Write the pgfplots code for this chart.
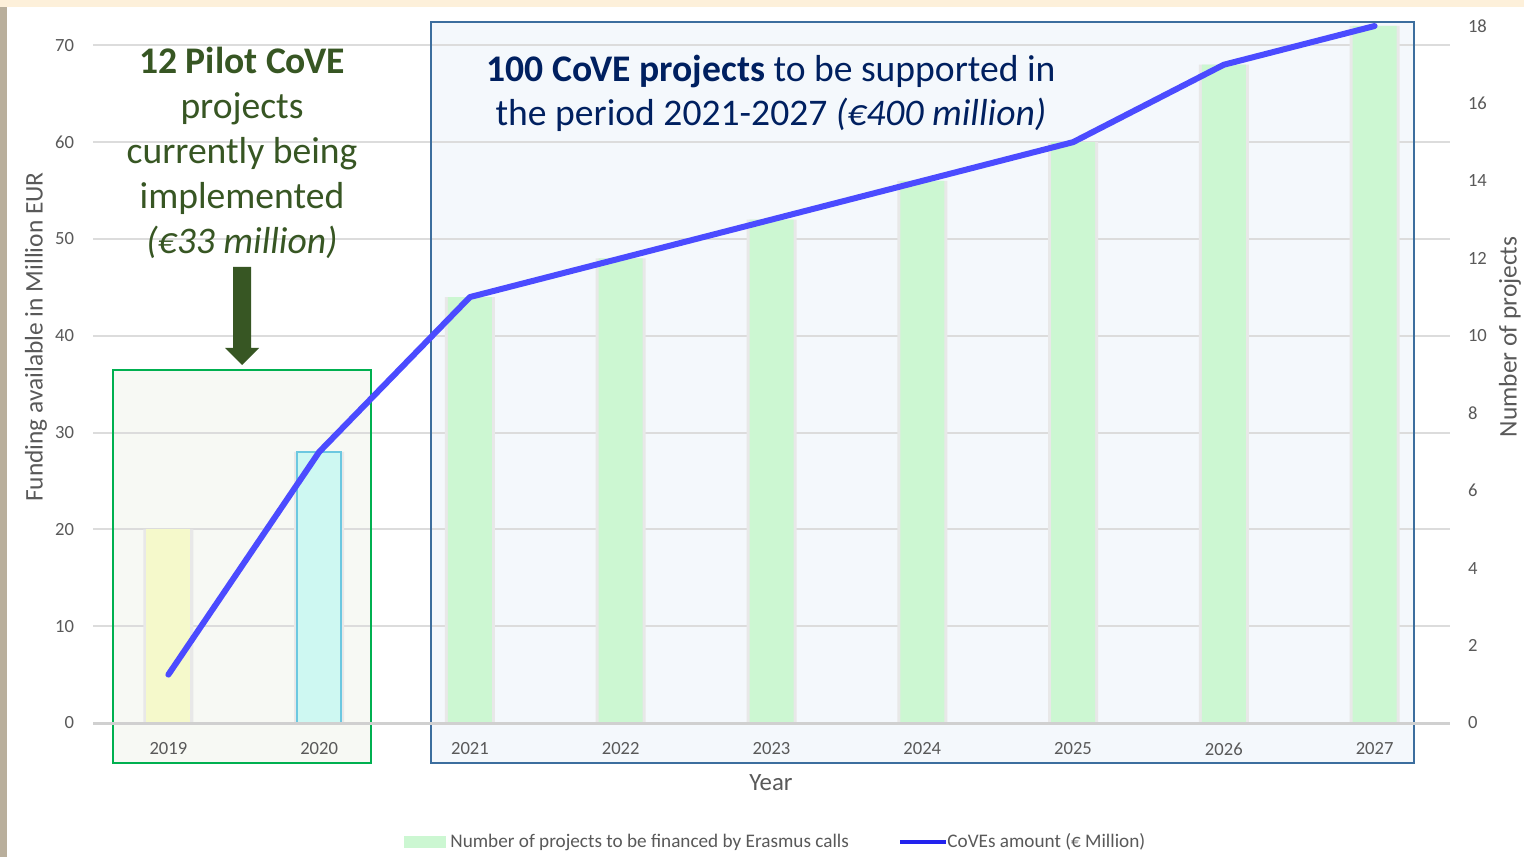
\documentclass[border=0pt]{standalone}
\usepackage{pgfplots}
\pgfplotsset{compat=1.18}
\usepackage{fontspec}
\setmainfont{Carlito}
\definecolor{tickgray}{HTML}{595959}
\definecolor{gridgray}{HTML}{DCDCDC}
\definecolor{basegray}{HTML}{D0D0D0}
\definecolor{barGreen}{HTML}{CCF7D2}
\definecolor{barYellow}{HTML}{F5F9CB}
\definecolor{barCyan}{HTML}{CEF8F2}
\definecolor{cyanEdge}{HTML}{6CC8E0}
\definecolor{lineBlue}{HTML}{4B4BFF}
\definecolor{legBlue}{HTML}{2323EE}
\definecolor{boxGreen}{HTML}{00B050}
\definecolor{boxBlue}{HTML}{3C6E9E}
\definecolor{fillGreenBox}{HTML}{F7F9F4}
\definecolor{fillBlueBox}{HTML}{F4F8FC}
\definecolor{darkGreen}{HTML}{375623}
\definecolor{navy}{HTML}{002060}
\definecolor{cream}{HTML}{FDF0DA}
\definecolor{beige}{HTML}{B9AF9C}

\pgfplotsset{
  common/.style={
    at={(46.5pt,67pt)}, anchor=south west, scale only axis,
    width=678.5pt, height=348.5pt,
    xmin=-0.5, xmax=8.5,
    axis line style={draw=none},
    major tick length=0pt,
    /pgf/number format/assume math mode=true,
    tick label style={text=tickgray, font=\fontsize{9.3}{11}\selectfont},
  }
}

\begin{document}
\begin{tikzpicture}
% background and box fills
\begin{scope}[shift={(0,428.5pt)}, x=0.5pt, y=-0.5pt]
\fill[white] (0,0) rectangle (1524,857);
\fill[cream] (0,0) rectangle (1524,7);
\fill[beige] (0,7) rectangle (7,857);
\fill[fillGreenBox] (113,370) rectangle (371,763);
\fill[fillBlueBox] (431,22) rectangle (1414,763);
\end{scope}

% axis A: left scale, grid and tick labels
\begin{axis}[common,
  ymin=0, ymax=72, ytick={0,10,...,70},
  ymajorgrids, grid style={gridgray, line width=1pt},
  xtick={0,...,8},
  xticklabels={2019,2020,2021,2022,2023,2024,2025,2026,2027},
  yticklabel style={anchor=east, xshift=-6pt},
  xticklabel style={anchor=north, yshift=-6.3pt},
]
\addplot[draw=none] coordinates {(0,0)};
\end{axis}

% axis B: right scale, bars
\begin{axis}[common,
  ymin=0, ymax=18, ytick={0,2,...,18},
  axis y line*=right, axis x line=none,
  yticklabel style={anchor=west, xshift=5.5pt},
  ybar, bar width=22pt,
]
\addplot[fill=black!9, draw=none, bar width=25pt, bar shift=0pt, forget plot]
  coordinates {(0,5) (1,7) (2,11) (3,12) (4,13) (5,14) (6,15) (7,17) (8,18)};
\addplot[fill=barYellow, draw=none, bar shift=0pt] coordinates {(0,5)};
\addplot[fill=barCyan, draw=cyanEdge, line width=0.8pt, bar shift=0pt] coordinates {(1,7)};
\addplot[fill=barGreen, draw=none, bar shift=0pt]
  coordinates {(2,11) (3,12) (4,13) (5,14) (6,15) (7,17) (8,18)};
\end{axis}

% box borders
\begin{scope}[shift={(0,428.5pt)}, x=0.5pt, y=-0.5pt]
\draw[boxGreen, line width=1pt] (113,370) rectangle (371,763);
\draw[boxBlue, line width=1.2pt] (431,22) rectangle (1414,763);
\end{scope}

% axis C: left scale, line
\begin{axis}[common,
  ymin=0, ymax=72, ytick=\empty, xtick=\empty, clip=false,
]
\draw[basegray, line width=1.5pt] (rel axis cs:0,0) -- (rel axis cs:1,0);
\addplot[lineBlue, line width=3pt, line join=round, line cap=round]
  coordinates {(0,5) (1,28) (2,44) (3,48) (4,52) (5,56) (6,60) (7,68) (8,72)};
\end{axis}

% annotations, labels, legend
\begin{scope}[shift={(0,428.5pt)}, x=0.5pt, y=-0.5pt]
\begin{scope}[darkGreen, every node/.style={anchor=base, inner sep=0pt, font=\fontsize{18.8}{22.5}\selectfont}]
\node at (242,74) {\textbf{12 Pilot CoVE}};
\node at (242,119) {projects};
\node at (242,164) {currently being};
\node at (242,209) {implemented};
\node at (242,254) {\textit{(€33 million)}};
\end{scope}
\fill[darkGreen] (233,267) -- (251,267) -- (251,348) -- (259,348) -- (242,365) -- (225,348) -- (233,348) -- cycle;
\begin{scope}[navy, every node/.style={anchor=base, inner sep=0pt, font=\fontsize{18.8}{22.5}\selectfont}]
\node at (771,82) {\textbf{100 CoVE projects} to be supported in};
\node at (771,126) {the period 2021-2027 \textit{(€400 million)}};
\end{scope}
\node[anchor=base, inner sep=0pt, text=tickgray, font=\fontsize{12.4}{14}\selectfont] at (771,790) {Year};
\node[rotate=90, inner sep=0pt, text=tickgray, font=\fontsize{12.7}{14}\selectfont] at (36,337) {Funding available in Million EUR};
\node[rotate=90, inner sep=0pt, text=tickgray, font=\fontsize{12.7}{14}\selectfont] at (1510,337) {Number of projects};
% legend
\fill[barGreen] (404,836) rectangle (446,848);
\node[anchor=west, inner sep=0pt, text=tickgray, font=\fontsize{9.6}{11}\selectfont] at (450,842) {Number of projects to be financed by Erasmus calls};
\draw[legBlue, line width=2pt] (900,842) -- (946,842);
\node[anchor=west, inner sep=0pt, text=tickgray, font=\fontsize{9.6}{11}\selectfont] at (947,842) {CoVEs amount (€ Million)};
\end{scope}

\pgfresetboundingbox
\path[use as bounding box] (0,0) rectangle (762pt,428.5pt);
\end{tikzpicture}
\end{document}
